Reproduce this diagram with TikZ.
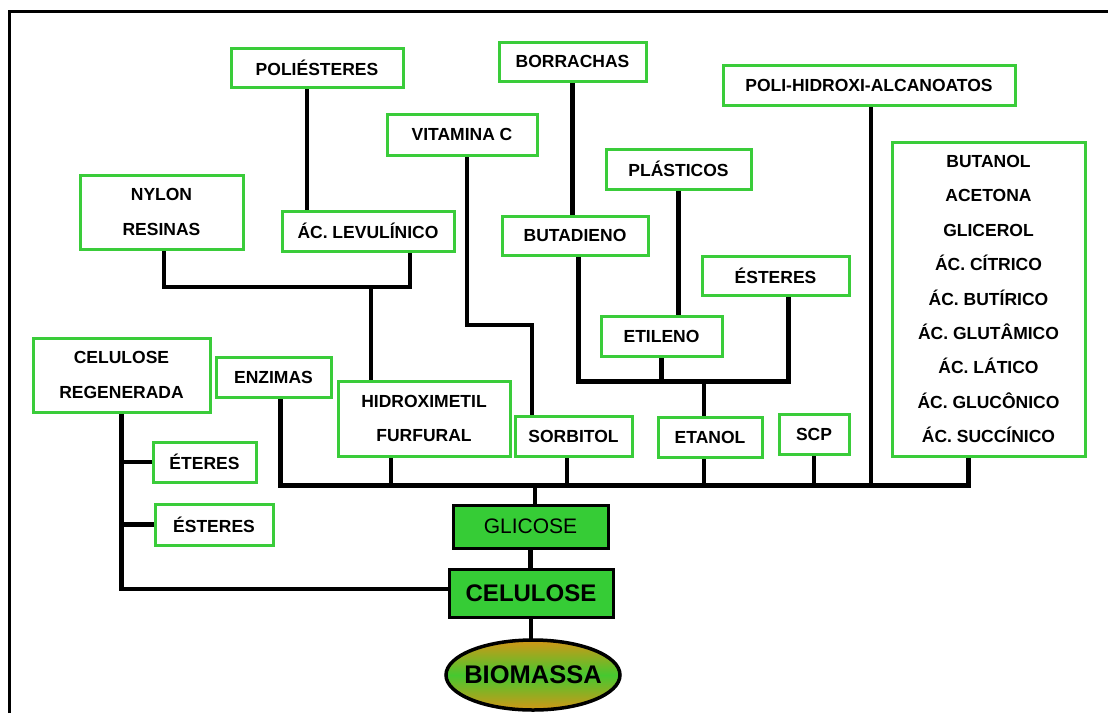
\documentclass[tikz,border=0pt]{standalone}
\usepackage{fontspec}
\setmainfont{Liberation Sans}
\usetikzlibrary{shapes.geometric}
\pgfdeclarelayer{background}
\pgfsetlayers{background,main}
\definecolor{boxgreen}{RGB}{58,204,58}
\definecolor{fillgreen}{RGB}{54,204,54}
\definecolor{ochre}{RGB}{210,150,22}
\definecolor{leaf}{RGB}{70,200,48}
\tikzset{
  prod/.style={draw=boxgreen, line width=3pt, fill=white, inner sep=0pt,
    font=\fontsize{17.5}{34.4}\selectfont\bfseries, align=center},
  core/.style={draw=black, line width=3pt, fill=fillgreen, inner sep=0pt},
  link/.style={line width=4.2pt, line cap=rect},
  trunk/.style={line width=5pt, line cap=rect},
}
\newcommand{\bx}[6]{\node[prod, minimum width=#4pt, minimum height=#5pt] (#1) at (#2,#3) {#6};}
\begin{document}
\begin{tikzpicture}[x=1pt, y=-1pt]
\useasboundingbox (0,0) rectangle (1108,713);

% product boxes
\bx{poli}{317}{67.5}{172}{39}{POLIÉSTERES}
\bx{borr}{572.5}{61.5}{147}{39}{BORRACHAS}
\bx{vitc}{462}{134.5}{150}{41}{VITAMINA C}
\bx{plast}{678.5}{169}{145}{40}{PLÁSTICOS}
\bx{buta}{575}{235.5}{146}{39}{BUTADIENO}
\bx{pha}{869}{85}{292}{40}{POLI-HIDROXI-ALCANOATOS}
\bx{big}{988.5}{299}{193}{314}{BUTANOL\\ACETONA\\GLICEROL\\ÁC. CÍTRICO\\ÁC. BUTÍRICO\\ÁC. GLUTÂMICO\\ÁC. LÁTICO\\ÁC. GLUCÔNICO\\ÁC. SUCCÍNICO}
\bx{nylon}{161.5}{212}{163}{74}{NYLON\\RESINAS}
\bx{levu}{368}{231}{172}{40}{ÁC. LEVULÍNICO}
\bx{esttop}{775.5}{275.5}{147}{39}{ÉSTERES}
\bx{etil}{661.5}{336}{121}{40}{ETILENO}
\bx{etanol}{710}{437}{104}{40}{ETANOL}
\bx{scp}{814}{434}{70}{40}{SCP}
\bx{sorb}{573.5}{436}{117}{40}{SORBITOL}
\bx{hmf}{424}{418.5}{172}{75}{HIDROXIMETIL\\FURFURAL}
\bx{enz}{273.5}{377}{115}{40}{ENZIMAS}
\bx{celreg}{121.5}{375}{177}{74}{CELULOSE\\REGENERADA}
\bx{eteres}{204.5}{462}{103}{40}{ÉTERES}
\bx{estleft}{214}{524.5}{118}{41}{ÉSTERES}

% core chain
\node[core, minimum width=155pt, minimum height=43pt,
      font=\fontsize{21}{24}\selectfont] (glic) at (530.5,526.5) {GLICOSE};
\node[core, minimum width=164pt, minimum height=48pt,
      font=\fontsize{24}{28}\selectfont\bfseries] (cel) at (531,593) {CELULOSE};
\node[ellipse, draw=black, line width=3.5pt, inner sep=0pt,
      minimum width=174pt, minimum height=70pt,
      top color=ochre, bottom color=ochre, middle color=leaf] (bio) at (533,675) {};
\node[font=\fontsize{25.5}{28}\selectfont\bfseries, inner sep=0pt] (biotext) at (bio.center) {BIOMASSA};

% junction points
\coordinate (bus) at (535,485);
\coordinate (j1) at (371,287);
\coordinate (j2) at (704,381);
\coordinate (vc) at (532,325);

\begin{pgfonlayer}{background}
  \fill[white] (0,0) rectangle (1108,713);
  % outer frame (top and left edges visible)
  \draw[line width=3pt] (9,713) -- (9,11) -- (1108,11);

  % main bus collecting the glucose products
  \draw[trunk] ([xshift=6.5pt]enz.south) |- ([xshift=-20.5pt]big.south |- bus)
               -- ([xshift=-20.5pt]big.south);
  \draw[link] ([xshift=-33pt]hmf.south) -- ([xshift=-33pt]hmf.south |- bus);
  \draw[link] ([xshift=-6.5pt]sorb.south) -- ([xshift=-6.5pt]sorb.south |- bus);
  \draw[link] ([xshift=-6pt]etanol.south) -- ([xshift=-6pt]etanol.south |- bus);
  \draw[link] (scp.south) -- (scp.south |- bus);
  \draw[link] ([xshift=2pt]pha.south) -- ([xshift=2pt]pha.south |- bus);
  \draw[link] ([xshift=4.5pt]glic.north) -- ([xshift=4.5pt]glic.north |- bus);

  % hydroxymethylfurfural branch
  \draw[link] ([xshift=2.5pt]nylon.south) |- ([xshift=42pt]levu.south |- j1)
              -- ([xshift=42pt]levu.south);
  \draw[link] (j1) -- (j1 |- hmf.north);
  \draw[link] ([xshift=-10pt]poli.south) -- ([xshift=-10pt]poli.south |- levu.north);

  % vitamin C to sorbitol
  \draw[link] ([xshift=5pt]vitc.south) |- (vc) -- (vc |- sorb.north);

  % ethanol branch
  \draw[trunk] ([xshift=3pt]buta.south) |- ([xshift=12.5pt]esttop.south |- j2)
               -- ([xshift=12.5pt]esttop.south);
  \draw[link] (etil.south) -- (etil.south |- j2);
  \draw[link] (j2) -- (j2 |- etanol.north);
  \draw[link] (borr.south) -- (borr.south |- buta.north);
  \draw[link] (plast.south) -- (plast.south |- etil.north);

  % regenerated cellulose branch
  \draw[link] (celreg.south) |- ([yshift=4pt]cel.west);
  \draw[link] (celreg.south |- eteres.west) -- (eteres.west);
  \draw[link] (celreg.south |- estleft.west) -- (estleft.west);

  % core chain
  \draw[link] (glic.south) -- (glic.south |- cel.north);
  \draw[link] (cel.south) -- (cel.south |- bio.north);
\end{pgfonlayer}
\end{tikzpicture}
\end{document}
